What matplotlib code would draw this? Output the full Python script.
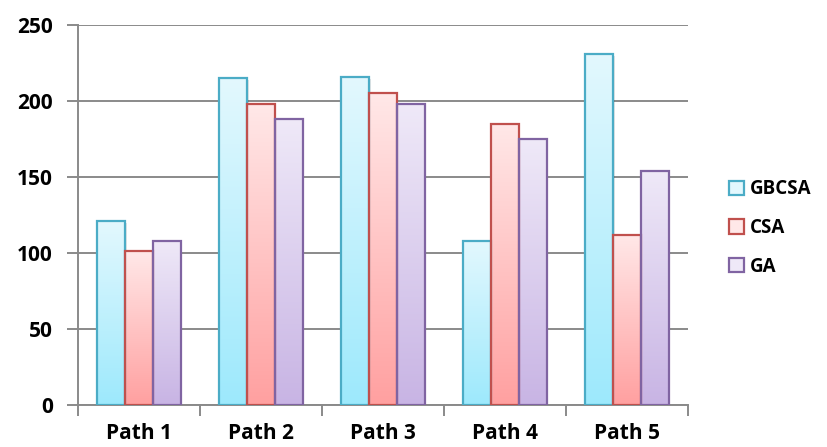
import numpy as np
import matplotlib.pyplot as plt
from matplotlib.colors import LinearSegmentedColormap
from matplotlib.patches import Patch

paths = ["Path 1", "Path 2", "Path 3", "Path 4", "Path 5"]
series = ["GBCSA", "CSA", "GA"]
gbcsa = [121, 215, 216, 108, 231]
csa = [101, 198, 205, 185, 112]
ga = [108, 188, 198, 175, 154]
values = [gbcsa, csa, ga]

edges = ["#4bacc6", "#c0504d", "#8064a2"]
tops = ["#e3f8fe", "#ffe8e8", "#efe9f8"]
bottoms = ["#9de9fc", "#ffa0a0", "#c8b4e4"]

plt.rcParams["font.family"] = ["Open Sans", "DejaVu Sans"]

fig = plt.figure(figsize=(8.27, 4.47), dpi=100)
ax = fig.add_axes([78 / 827, 42 / 447, 610 / 827, 380 / 447])

x = np.arange(len(paths))
w = 0.227
grad = np.linspace(1, 0, 256).reshape(-1, 1)

for i, name in enumerate(series):
    cmap = LinearSegmentedColormap.from_list(name, [bottoms[i], tops[i]])
    pos = x + (i - 1) * w
    bars = ax.bar(pos, values[i], width=w, facecolor="none", edgecolor=edges[i],
                  linewidth=1.6, zorder=4)
    for b in bars:
        bx, by = b.get_x(), b.get_y()
        bw, bh = b.get_width(), b.get_height()
        # soft shadow
        ax.add_patch(plt.Rectangle((bx + 0.012, by), bw, bh - 1.2, facecolor="#000000",
                                   alpha=0.10, edgecolor="none", zorder=2))
        im = ax.imshow(grad, extent=(bx, bx + bw, by, by + bh), cmap=cmap,
                       aspect="auto", origin="upper", zorder=3)
        im.set_clip_path(b)

ax.set_xlim(-0.5, 4.5)
ax.set_ylim(0, 250)

ax.set_yticks([0, 50, 100, 150, 200, 250])
ax.yaxis.grid(True, color="#8a8a8a", linewidth=1.4, zorder=0)
ax.set_axisbelow(True)
ax.tick_params(axis="y", length=8, width=1.4, color="#8a8a8a", pad=10, labelsize=15)

ax.set_xticks(x)
ax.set_xticklabels(paths)
ax.set_xticks(np.arange(-0.5, 5.0, 1.0), minor=True)
ax.tick_params(axis="x", which="major", length=0, pad=13, labelsize=15)
ax.tick_params(axis="x", which="minor", length=8, width=1.4, color="#8a8a8a")

for lbl in ax.get_xticklabels() + ax.get_yticklabels():
    lbl.set_fontweight("bold")

for s in ["top", "right"]:
    ax.spines[s].set_visible(False)
for s in ["left", "bottom"]:
    ax.spines[s].set_color("#8a8a8a")
    ax.spines[s].set_linewidth(1.4)

handles = [Patch(facecolor=tops[i], edgecolor=edges[i], linewidth=1.6, label=series[i])
           for i in range(3)]
fig.legend(handles=handles, loc="center left", bbox_to_anchor=(0.877, 0.49),
           frameon=False, prop={"weight": "bold", "size": 13.5},
           handlelength=0.8, handleheight=0.8, handletextpad=0.3, labelspacing=1.0,
           borderpad=0.2, borderaxespad=0)

fig.savefig("out.png", dpi=100)
